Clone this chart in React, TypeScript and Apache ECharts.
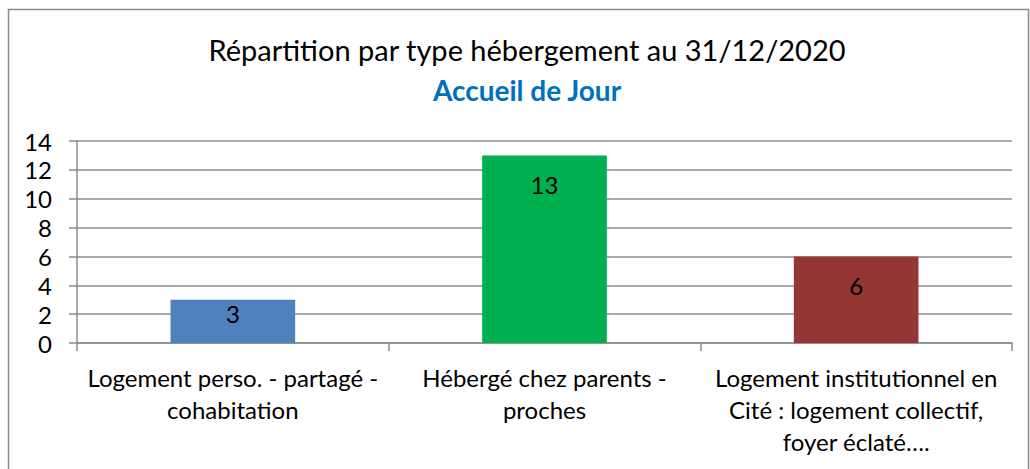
import React, { useEffect, useRef } from "react";
import * as echarts from "echarts";

const titleText = "Répartition par type hébergement au 31/12/2020";
const subtitleText = "Accueil de Jour";
const categories = [
  "Logement perso. - partagé -\ncohabitation",
  "Hébergé chez parents -\nproches",
  "Logement institutionnel en\nCité : logement collectif,\nfoyer éclaté….",
];
const values = [3, 13, 6];
const barColors = ["#4F81BD", "#00B050", "#943634"];
const labelDistances = [2, 17, 17];
const yMin = 0;
const yMax = 14;
const yStep = 2;

const FONT = "Lato, 'Open Sans', sans-serif";

export default function App() {
  const ref = useRef<HTMLDivElement>(null);
  useEffect(() => {
    if (!ref.current) return;
    const chart = echarts.init(ref.current, undefined, { renderer: "svg" });
    chart.setOption({
      animation: false,
      backgroundColor: "#ffffff",
      textStyle: { fontFamily: FONT },
      title: [
        {
          text: titleText,
          left: 522,
          top: 30,
          textAlign: "center",
          textStyle: { fontFamily: FONT, fontSize: 29, fontWeight: "normal", color: "#000000" },
        },
        {
          text: subtitleText,
          left: 522,
          top: 71,
          textAlign: "center",
          textStyle: { fontFamily: FONT, fontSize: 28, fontWeight: "bold", color: "#0070C0" },
        },
      ],
      graphic: [
        {
          type: "rect",
          shape: { x: 8.5, y: 9.5, width: 1020, height: 470 },
          style: { fill: "none", stroke: "#8a8a8a", lineWidth: 1.5 },
          silent: true,
          z: 100,
        },
      ],
      grid: { left: 77, right: 18, top: 141, bottom: 126, containLabel: false },
      xAxis: {
        type: "category",
        data: categories,
        axisLine: { show: true, lineStyle: { color: "#8c8c8c", width: 1.5 } },
        axisTick: { show: true, alignWithLabel: false, length: 8, lineStyle: { color: "#8c8c8c", width: 1.5 } },
        axisLabel: {
          interval: 0,
          fontFamily: FONT,
          fontSize: 24,
          color: "#000000",
          lineHeight: 32,
          margin: 18,
        },
      },
      yAxis: {
        type: "value",
        min: yMin,
        max: yMax,
        interval: yStep,
        axisLine: { show: true, lineStyle: { color: "#8c8c8c", width: 1.5 } },
        axisTick: { show: true, length: 8, lineStyle: { color: "#8c8c8c", width: 1.5 } },
        splitLine: { show: true, lineStyle: { color: "#8c8c8c", width: 1.5 } },
        axisLabel: { fontFamily: FONT, fontSize: 24, color: "#000000", margin: 25 },
      },
      series: [
        {
          type: "bar",
          data: values.map((v, i) => ({
            value: v,
            itemStyle: { color: barColors[i] },
            label: { distance: labelDistances[i] },
          })),
          barWidth: "40%",
          label: {
            show: true,
            position: "insideTop",
            fontFamily: FONT,
            fontSize: 24,
            color: "#000000",
          },
        },
      ],
    });
    return () => chart.dispose();
  }, []);
  return (
    <div
      ref={ref}
      style={{ position: "fixed", left: 0, top: 0, width: 1030, height: 469, background: "#fff" }}
    />
  );
}
